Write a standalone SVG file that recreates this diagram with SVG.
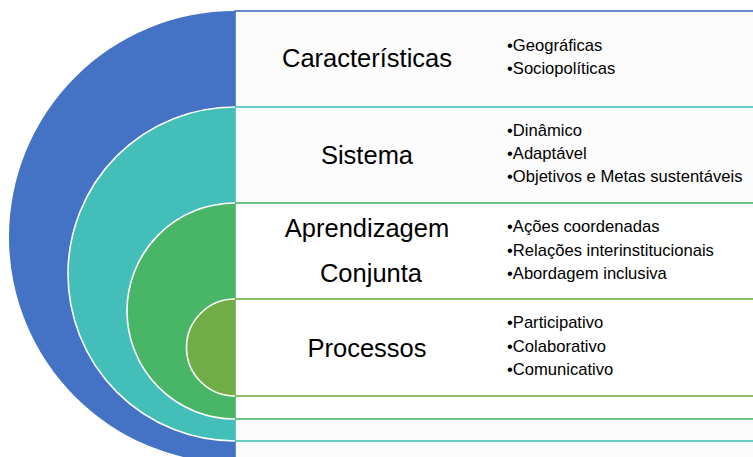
<svg xmlns="http://www.w3.org/2000/svg" width="753" height="457" viewBox="0 0 753 457">
<style>
.band{stroke-width:1.6}
.arc{stroke:#ffffff;stroke-width:1.6}
.title{font-family:"Liberation Sans",Arial,sans-serif;font-size:25.5px;fill:#000;text-anchor:middle}
.item{font-family:"Liberation Sans",Arial,sans-serif;font-size:16.6px;fill:#000}
</style>
<rect width="753" height="457" fill="#ffffff"/>
<g id="caracteristicas">
<rect class="band" x="235" y="11" width="530" height="452" fill="#fcfcfc" stroke="#4472C4"/>
<path d="M235,11 A226,226 0 0 0 235,463 Z" fill="#4472C4" stroke="none"/>
<text class="title" x="367" y="67">Características</text>
<text class="item" x="507" y="51">•Geográficas</text>
<text class="item" x="507" y="74">•Sociopolíticas</text>
</g>
<g id="sistema">
<rect class="band" x="235" y="107" width="530" height="334" fill="#fcfcfc" stroke="#43BEB8"/>
<path class="arc" d="M235,107 A167,167 0 0 0 235,441" fill="#43BEB8"/>
<text class="title" x="367" y="164">Sistema</text>
<text class="item" x="507" y="136">•Dinâmico</text>
<text class="item" x="507" y="159">•Adaptável</text>
<text class="item" x="507" y="182">•Objetivos e Metas sustentáveis</text>
</g>
<g id="aprendizagem">
<rect class="band" x="235" y="203" width="530" height="216" fill="#ffffff" stroke="#48B567"/>
<path class="arc" d="M235,203 A108,108 0 0 0 235,419" fill="#48B567"/>
<text class="title" x="367" y="237">Aprendizagem</text>
<text class="title" x="371" y="282">Conjunta</text>
<text class="item" x="507" y="232">•Ações coordenadas</text>
<text class="item" x="507" y="256">•Relações interinstitucionais</text>
<text class="item" x="507" y="279">•Abordagem inclusiva</text>
</g>
<g id="processos">
<rect class="band" x="235" y="299" width="530" height="97" fill="#ffffff" stroke="#70AD47"/>
<path class="arc" d="M235,299 A48.5,48.5 0 0 0 235,396" fill="#70AD47"/>
<text class="title" x="367" y="357">Processos</text>
<text class="item" x="507" y="328">•Participativo</text>
<text class="item" x="507" y="352">•Colaborativo</text>
<text class="item" x="507" y="375">•Comunicativo</text>
</g>
<g id="connectors"/>
</svg>
